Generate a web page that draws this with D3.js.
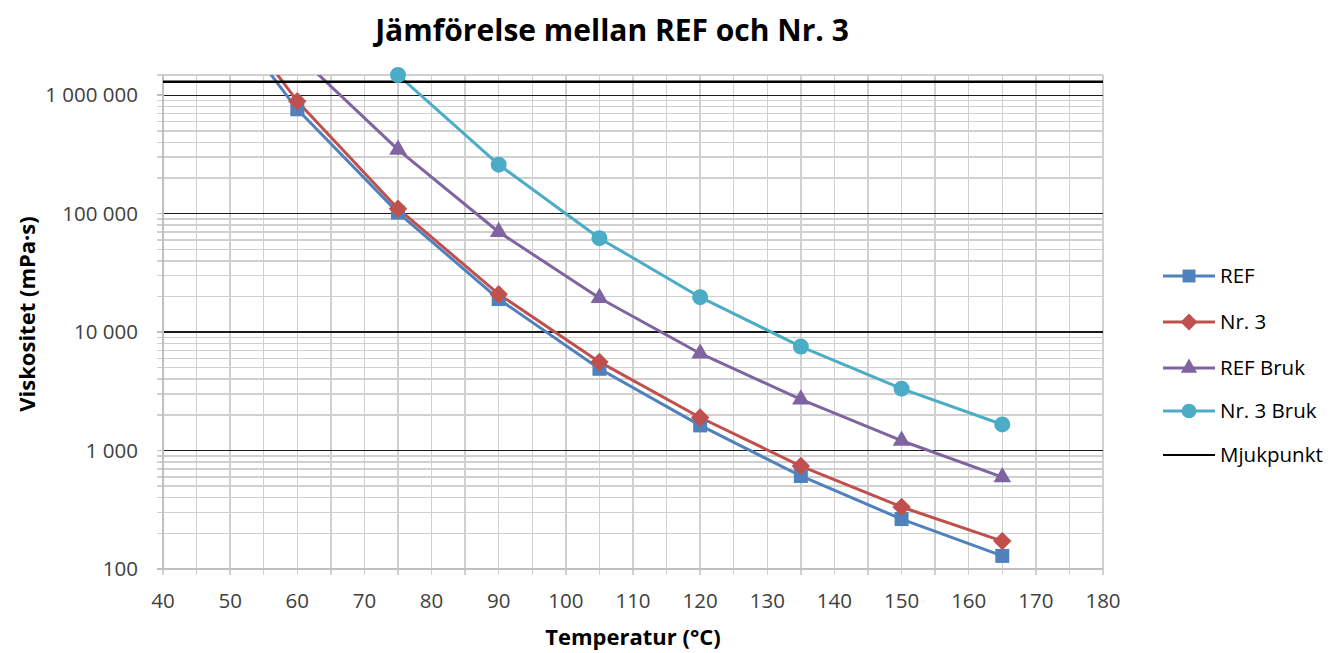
<html lang="sv">
  <head>
    <meta charset="utf-8">
    <title>Jämförelse mellan REF och Nr. 3</title>
    <script src="https://d3js.org/d3.v7.min.js"></script>
    <style type="text/css">
      body { margin: 0; background: #fff; }
      svg { display: block; font-family: "Open Sans", sans-serif; }
      .grid line { shape-rendering: crispEdges; }
    </style>
  </head>
  <body>
    <div id="chart"></div>
  </body>
</html>
<script type="text/javascript">
  // temperaturer (°C)
  const temps = [45, 60, 75, 90, 105, 120, 135, 150, 165];
  // viskositet (mPa·s), null = saknas
  const ref      = [1.0e7, 7.6e5, 1.02e5, 1.9e4, 4.9e3, 1.63e3, 610, 264, 129];
  const nr3      = [1.2e7, 8.9e5, 1.1e5, 2.09e4, 5.6e3, 1.9e3, 740, 334, 172];
  const refBruk  = [null, 2.2e6, 3.47e5, 7.0e4, 1.94e4, 6.6e3, 2.7e3, 1.21e3, 597];
  const nr3Bruk  = [null, null, 1.48e6, 2.59e5, 6.2e4, 1.97e4, 7.55e3, 3.33e3, 1.66e3];
  const mjukTemps = [40, 180];
  const mjukpunkt = [1.3e6, 1.3e6];

  const seriesNames = ["REF", "Nr. 3", "REF Bruk", "Nr. 3 Bruk", "Mjukpunkt"];
  const colors = ["#4f81bd", "#c0504d", "#8064a2", "#4bacc6", "#000000"];
  const symbols = [d3.symbolSquare, d3.symbolSquare, d3.symbolTriangle, d3.symbolCircle, null];
  const symSize = [196, 170, 135, 200, 0];
  const symRot = [0, 45, 0, 0, 0];
  const yTicks = [100, 1000, 10000, 100000, 1000000];

  const width = 1344, height = 653;
  const m = { left: 163, right: 1103, top: 75, bottom: 569 };

  const svg = d3.select("#chart").append("svg")
    .attr("width", width)
    .attr("height", height);

  const x = d3.scaleLinear().domain([40, 180]).range([m.left, m.right]);
  const y = d3.scaleLog().domain([100, 1.48e6]).range([m.bottom, m.top]);

  const fmt = function(v) { return d3.format(",")(v).replace(/,/g, " "); };

  // rutnät
  const grid = svg.append("g").attr("class", "grid");
  const xGrid = d3.range(40, 181, 5);
  grid.selectAll(".vx").data(xGrid).enter().append("line")
    .attr("x1", d => x(d)).attr("x2", d => x(d))
    .attr("y1", m.top).attr("y2", m.bottom + 6)
    .attr("stroke", "#d0d0d0").attr("stroke-width", 1.5);

  const minor = [];
  [100, 1000, 10000, 100000, 1000000].forEach(function(p) {
    for (let k = 2; k <= 9; k++) {
      if (p * k <= y.domain()[1]) minor.push(p * k);
    }
  });
  grid.selectAll(".mi").data(minor).enter().append("line")
    .attr("x1", m.left - 6).attr("x2", m.right)
    .attr("y1", d => y(d)).attr("y2", d => y(d))
    .attr("stroke", "#d0d0d0").attr("stroke-width", 1.5);

  // topplinje
  grid.append("line")
    .attr("x1", m.left - 6).attr("x2", m.right)
    .attr("y1", m.top).attr("y2", m.top)
    .attr("stroke", "#d0d0d0").attr("stroke-width", 1.5);

  grid.selectAll(".ma").data(yTicks.slice(1)).enter().append("line")
    .attr("x1", m.left).attr("x2", m.right)
    .attr("y1", d => y(d)).attr("y2", d => y(d))
    .attr("stroke", "#1a1a1a").attr("stroke-width", 1.2);

  // axlar
  grid.append("line")
    .attr("x1", m.left).attr("x2", m.left)
    .attr("y1", m.top).attr("y2", m.bottom)
    .attr("stroke", "#c0c0c0").attr("stroke-width", 1.5);
  grid.append("line")
    .attr("x1", m.left - 6).attr("x2", m.right)
    .attr("y1", m.bottom).attr("y2", m.bottom)
    .attr("stroke", "#c0c0c0").attr("stroke-width", 1.5);
  grid.selectAll(".tk").data(yTicks.slice(1)).enter().append("line")
    .attr("x1", m.left - 6).attr("x2", m.left)
    .attr("y1", d => y(d)).attr("y2", d => y(d))
    .attr("stroke", "#c0c0c0").attr("stroke-width", 1.5);

  // axeltexter
  svg.append("g").selectAll("text").data(yTicks).enter().append("text")
    .attr("x", m.left - 25).attr("y", d => y(d))
    .attr("dy", "0.35em")
    .attr("text-anchor", "end")
    .attr("font-size", 20.5).attr("fill", "#404040")
    .text(fmt);

  svg.append("g").selectAll("text").data(d3.range(40, 181, 10)).enter().append("text")
    .attr("x", d => x(d)).attr("y", 601)
    .attr("dy", "0.35em")
    .attr("text-anchor", "middle")
    .attr("font-size", 20.5).attr("fill", "#404040")
    .text(d => d);

  svg.append("text")
    .attr("x", (m.left + m.right) / 2).attr("y", 637)
    .attr("dy", "0.35em")
    .attr("text-anchor", "middle")
    .attr("font-size", 22).attr("font-weight", "bold").attr("fill", "#000")
    .text("Temperatur (°C)");

  svg.append("text")
    .attr("transform", "translate(27,314) rotate(-90)")
    .attr("dy", "0.35em")
    .attr("text-anchor", "middle")
    .attr("font-size", 22).attr("font-weight", "bold").attr("fill", "#000")
    .text("Viskositet (mPa·s)");

  svg.append("text")
    .attr("x", 612).attr("y", 30)
    .attr("dy", "0.35em")
    .attr("text-anchor", "middle")
    .attr("font-size", 30).attr("font-weight", "bold").attr("fill", "#000")
    .text("Jämförelse mellan REF och Nr. 3");

  // serier
  svg.append("clipPath").attr("id", "plot")
    .append("rect")
    .attr("x", m.left).attr("y", m.top)
    .attr("width", m.right - m.left).attr("height", m.bottom - m.top);

  const data = [ref, nr3, refBruk, nr3Bruk].map(function(vals, i) {
    return {
      name: seriesNames[i],
      i: i,
      points: temps.map((t, j) => ({ t: t, v: vals[j] })).filter(p => p.v != null)
    };
  });
  data.push({
    name: seriesNames[4], i: 4,
    points: mjukTemps.map((t, j) => ({ t: t, v: mjukpunkt[j] }))
  });

  const line = d3.line().x(d => x(d.t)).y(d => y(d.v));

  const lines = svg.append("g").attr("clip-path", "url(#plot)");
  lines.selectAll("path").data(data).enter().append("path")
    .attr("d", d => line(d.points))
    .attr("fill", "none")
    .attr("stroke", d => colors[d.i])
    .attr("stroke-width", d => d.i === 4 ? 2.5 : 3)
    .attr("stroke-linejoin", "round");

  const dom = y.domain();
  data.filter(d => symbols[d.i]).forEach(function(s) {
    svg.append("g").selectAll("path")
      .data(s.points.filter(p => p.v >= dom[0] && p.v <= dom[1] * 1.01 && p.t >= 40))
      .enter().append("path")
      .attr("transform", p => "translate(" + x(p.t) + "," + y(p.v) + ") rotate(" + symRot[s.i] + ")")
      .attr("d", d3.symbol().type(symbols[s.i]).size(symSize[s.i]))
      .attr("fill", colors[s.i]);
  });

  // förklaring
  const legRows = [276, 322, 368, 411, 455];
  const leg = svg.append("g");
  data.forEach(function(s, k) {
    const g = leg.append("g").attr("transform", "translate(0," + legRows[k] + ")");
    g.append("line")
      .attr("x1", 1163).attr("x2", 1215)
      .attr("stroke", colors[s.i])
      .attr("stroke-width", s.i === 4 ? 2 : 3);
    if (symbols[s.i]) {
      g.append("path")
        .attr("transform", "translate(1189,0) rotate(" + symRot[s.i] + ")")
        .attr("d", d3.symbol().type(symbols[s.i]).size(symSize[s.i] * 0.85))
        .attr("fill", colors[s.i]);
    }
    g.append("text")
      .attr("x", 1220).attr("dy", "0.35em")
      .attr("font-size", 20.5).attr("fill", "#000")
      .text(s.name);
  });
</script>
